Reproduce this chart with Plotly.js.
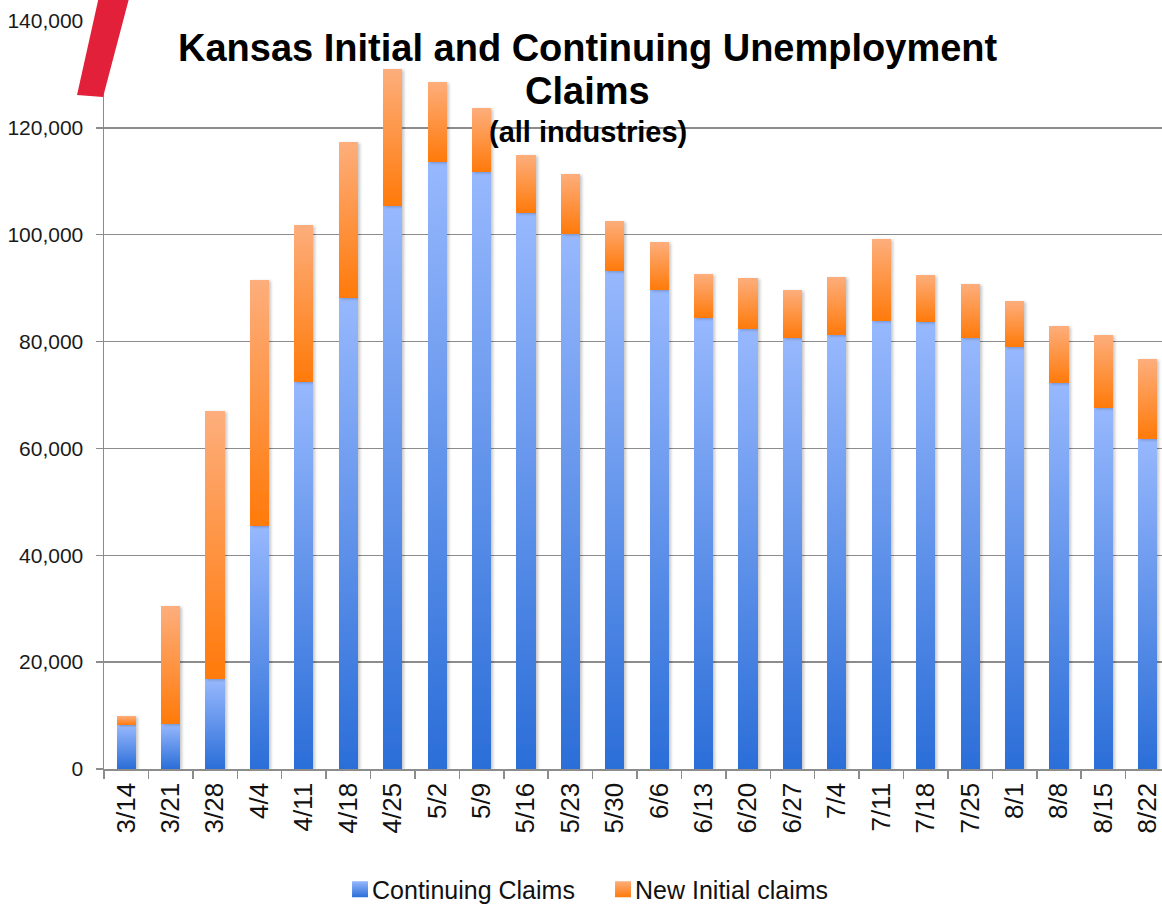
<!DOCTYPE html>
<html>
<head>
<meta charset="utf-8">
<script src="https://cdn.plot.ly/plotly-3.0.1.min.js"></script>
<style>
  html, body { margin: 0; padding: 0; overflow: hidden; background: #fff; }
  #chart { width: 1170px; height: 906px; }
</style>
</head>
<body>
<div id="chart"></div>
<script>
// Week-ending dates
const weeks = ['3/14','3/21','3/28','4/4','4/11','4/18','4/25','5/2','5/9','5/16','5/23','5/30',
               '6/6','6/13','6/20','6/27','7/4','7/11','7/18','7/25','8/1','8/8','8/15','8/22'];
// Continuing claims
const continuingClaims = [8200, 8400, 16800, 45500, 72500, 88200, 105400, 113700, 111800, 104100, 100200, 93200,
                          89600, 84400, 82300, 80700, 81200, 83800, 83700, 80700, 79000, 72200, 67600, 61800];
// New initial claims (stacked on top)
const newInitialClaims = [1700, 22100, 50200, 46000, 29300, 29100, 25600, 14900, 11900, 10800, 11200, 9400,
                          9000, 8200, 9600, 8900, 10900, 15400, 8800, 10100, 8600, 10700, 13600, 14900];
const yTickVals = [0, 20000, 40000, 60000, 80000, 100000, 120000, 140000];

const FONT = 'Liberation Sans, Arial, sans-serif';

const traces = [
  { type: 'bar', name: 'Continuing Claims', x: weeks, y: continuingClaims,
    marker: { color: '#5f93ec', line: { width: 0 } }, hoverinfo: 'skip' },
  { type: 'bar', name: 'New Initial claims', x: weeks, y: newInitialClaims,
    marker: { color: '#fe9647', line: { width: 0 } }, hoverinfo: 'skip' }
];

const layout = {
  width: 1170, height: 906,
  margin: { l: 104, r: 0, t: 21, b: 137, pad: 0, autoexpand: false },
  paper_bgcolor: '#ffffff', plot_bgcolor: '#ffffff',
  barmode: 'stack', bargap: 0.57,
  font: { family: FONT, color: '#1a1a1a' },
  showlegend: true,
  legend: { orientation: 'h', x: 0.2139, xanchor: 'left', y: -0.161, yanchor: 'middle',
            font: { size: 25, family: FONT, color: '#111' }, traceorder: 'normal',
            entrywidth: 218, entrywidthmode: 'pixels', borderwidth: 0 },
  xaxis: {
    type: 'category', tickangle: -90, tickson: 'boundaries', automargin: false,
    ticks: 'outside', ticklen: 8, tickcolor: '#8c8c8c', tickwidth: 1.5,
    showline: true, linecolor: '#8c8c8c', linewidth: 1.5,
    showgrid: false, zeroline: false,
    tickfont: { size: 26, family: FONT, color: '#111' },
    ticklabelstandoff: 2,
    fixedrange: true
  },
  yaxis: {
    range: [0, 140000], tickvals: yTickVals, tickformat: ',d', automargin: false,
    ticks: 'outside', ticklen: 7, tickcolor: '#8c8c8c', tickwidth: 1.5,
    showline: true, linecolor: '#8c8c8c', linewidth: 1.5,
    showgrid: true, gridcolor: '#8c8c8c', gridwidth: 1.5, zeroline: false,
    tickfont: { size: 21, family: FONT, color: '#1a1a1a' },
    ticklabelstandoff: 8,
    fixedrange: true
  },
  annotations: [
    { xref: 'paper', yref: 'paper', x: 0.454, y: 0.964, xanchor: 'center', yanchor: 'middle', showarrow: false,
      text: '<b>Kansas Initial and Continuing Unemployment</b>', font: { size: 38, family: FONT, color: '#000' } },
    { xref: 'paper', yref: 'paper', x: 0.454, y: 0.906, xanchor: 'center', yanchor: 'middle', showarrow: false,
      text: '<b>Claims</b>', font: { size: 38, family: FONT, color: '#000' } },
    { xref: 'paper', yref: 'paper', x: 0.454, y: 0.852, xanchor: 'center', yanchor: 'middle', showarrow: false,
      text: '<b>(all industries)</b>', font: { size: 29, family: FONT, color: '#000' } }
  ],
  shapes: [
    { type: 'path', xref: 'paper', yref: 'paper', layer: 'above',
      path: 'M -0.0036 1.04 L 0.0253 1.04 L -0.0009 0.8984 L -0.0253 0.9011 Z',
      fillcolor: '#e2203a', line: { width: 0 } }
  ]
};

Plotly.newPlot('chart', traces, layout, { staticPlot: true, displayModeBar: false }).then(function (gd) {
  const svg = gd.querySelector('svg.main-svg');
  const NS = 'http://www.w3.org/2000/svg';
  let defs = svg.querySelector('defs');
  if (!defs) { defs = document.createElementNS(NS, 'defs'); svg.insertBefore(defs, svg.firstChild); }
  function grad(id, top, bottom) {
    const g = document.createElementNS(NS, 'linearGradient');
    g.setAttribute('id', id);
    g.setAttribute('x1', '0'); g.setAttribute('y1', '0');
    g.setAttribute('x2', '0'); g.setAttribute('y2', '1');
    [[0, top], [1, bottom]].forEach(function (s) {
      const st = document.createElementNS(NS, 'stop');
      st.setAttribute('offset', s[0]);
      st.setAttribute('stop-color', s[1]);
      g.appendChild(st);
    });
    defs.appendChild(g);
  }
  grad('gBlue', '#97b8fd', '#2b6ed8');
  grad('gOrange', '#fdae7c', '#ff7a0a');
  const f = document.createElementNS(NS, 'filter');
  f.setAttribute('id', 'barShadow');
  f.setAttribute('x', '-30%'); f.setAttribute('y', '-5%');
  f.setAttribute('width', '170%'); f.setAttribute('height', '115%');
  const ds = document.createElementNS(NS, 'feDropShadow');
  ds.setAttribute('dx', '2'); ds.setAttribute('dy', '1');
  ds.setAttribute('stdDeviation', '1.6');
  ds.setAttribute('flood-color', '#000'); ds.setAttribute('flood-opacity', '0.22');
  f.appendChild(ds);
  defs.appendChild(f);

  const ids = ['gBlue', 'gOrange'];
  gd.querySelectorAll('.barlayer .trace').forEach(function (tr, i) {
    tr.querySelectorAll('path').forEach(function (p) {
      p.style.fill = 'url(#' + ids[i] + ')';
      p.setAttribute('filter', 'url(#barShadow)');
    });
  });
  gd.querySelectorAll('.legend .traces').forEach(function (tr, i) {
    tr.querySelectorAll('.legendpoints path').forEach(function (p) {
      p.style.fill = 'url(#' + ids[i] + ')';
      const t = p.getAttribute('transform') || '';
      p.setAttribute('transform', t + ' translate(8,0) scale(1.33)');
    });
  });
});
</script>
</body>
</html>
